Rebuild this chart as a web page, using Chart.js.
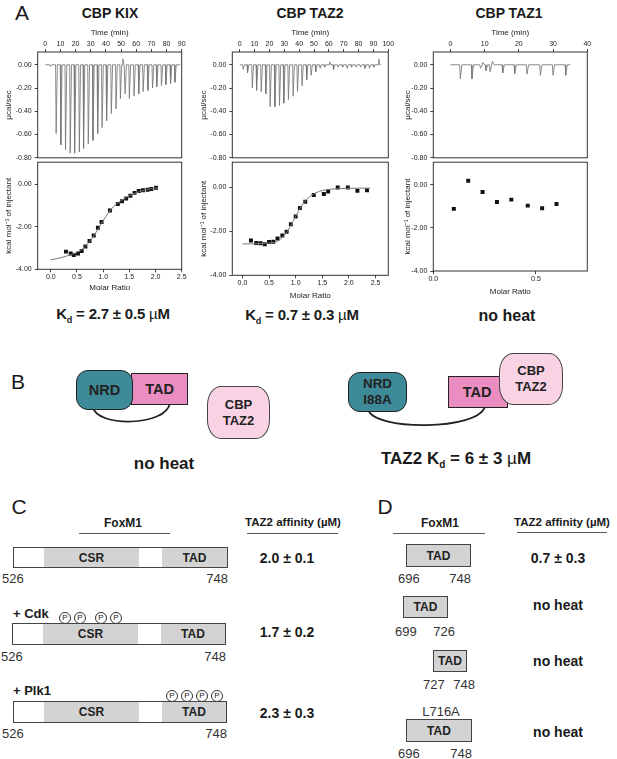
<!DOCTYPE html>
<html>
<head>
<meta charset="utf-8">
<script src="https://cdn.jsdelivr.net/npm/chart.js@4.4.0/dist/chart.umd.min.js"></script>
<style>
  html, body { margin: 0; padding: 0; background: #fff; }
  #fig { position: relative; width: 617px; height: 759px; overflow: hidden;
         font-family: 'Liberation Sans', Arial, sans-serif; color: #1a1a1a; }
  #fig canvas { position: absolute; }
  .t { position: absolute; transform: translate(-50%, -50%); white-space: nowrap; line-height: 1; }
  .l { position: absolute; transform: translateY(-50%); white-space: nowrap; line-height: 1; }
  .r { position: absolute; transform: translate(-100%, -50%); white-space: nowrap; line-height: 1; }
  .b { font-weight: bold; }
  .kd { font-weight: bold; font-size: 15px; letter-spacing: -0.2px; }
  .sub { font-size: 9px; position: relative; top: 4px; }
  .mu { font-weight: normal; }
  .box { position: absolute; box-sizing: border-box; display: flex; align-items: center; justify-content: center;
         font-weight: bold; font-size: 14.5px; text-align: center; line-height: 1.15; color: #222; }
  .rule { position: absolute; height: 0; border-top: 1.3px solid #555; }
  .p { position: absolute; width: 12px; height: 12px; box-sizing: border-box; border: 1px solid #333; border-radius: 50%;
       font-size: 8px; line-height: 10px; text-align: center; transform: translate(-50%, -50%); background: #fff; }
  .bar { position: absolute; box-sizing: border-box; border: 1px solid #444; background: #fff; }
  .seg { position: absolute; top: 0; bottom: 0; background: #d3d3d3; display: flex; align-items: center;
         justify-content: center; font-weight: bold; font-size: 12px; color: #222; }
  .gbox { position: absolute; box-sizing: border-box; border: 1px solid #444; background: #d3d3d3; display: flex;
          align-items: center; justify-content: center; font-weight: bold; font-size: 12px; color: #222; }
  .num { font-size: 13px; color: #333; }
</style>
</head>
<body>
<div id="fig">
  <!-- panel A labels -->
  <div class="t" style="left:22px;top:12px;font-size:21px">A</div>
  <div class="t b" style="left:110px;top:13px;font-size:14px">CBP KIX</div>
  <div class="t b" style="left:310px;top:13px;font-size:14px">CBP TAZ2</div>
  <div class="t b" style="left:509px;top:13px;font-size:14px">CBP TAZ1</div>
  <div class="t kd" style="left:113px;top:313px">K<span class="sub">d</span> = 2.7 ± 0.5 <span class="mu">µ</span>M</div>
  <div class="t kd" style="left:302px;top:314px">K<span class="sub">d</span> = 0.7 ± 0.3 <span class="mu">µ</span>M</div>
  <div class="t kd" style="left:507px;top:316px;font-size:16px;letter-spacing:0">no heat</div>

  <!-- panel B -->
  <div class="t" style="left:18px;top:381px;font-size:21px">B</div>
  <svg style="position:absolute;left:0;top:0" width="617" height="759">
    <path d="M93 407 C96 427, 166 427, 170 403" fill="none" stroke="#222" stroke-width="1.7"/>
    <path d="M368 409 C372 431, 480 431, 485 406" fill="none" stroke="#222" stroke-width="1.7"/>
  </svg>
  <div class="box" style="left:131px;top:373px;width:57px;height:32px;background:#ea8dc0;border:1.3px solid #222;z-index:1">TAD</div>
  <div class="box" style="left:76px;top:370px;width:57px;height:40px;background:#3f8a99;border:1.3px solid #222;border-radius:12px;z-index:2">NRD</div>
  <div class="box" style="left:207px;top:386px;width:63px;height:53px;background:#f9d2e4;border:1.3px solid #444;border-radius:14px/19px;font-size:13px;line-height:1.2">CBP<br>TAZ2</div>
  <div class="t b" style="left:164px;top:463px;font-size:17px">no heat</div>

  <div class="box" style="left:348px;top:372px;width:59px;height:40px;background:#3f8a99;border:1.3px solid #222;border-radius:12px;font-size:13.4px;line-height:1.17">NRD<br>I88A</div>
  <div class="box" style="left:448px;top:376px;width:60px;height:32px;background:#ea8dc0;border:1.3px solid #222;z-index:1;padding-right:2px">TAD</div>
  <div class="box" style="left:499px;top:353px;width:64px;height:52px;background:#f9d2e4;border:1.3px solid #444;border-radius:14px/19px;z-index:2;font-size:13px;line-height:1.2">CBP<br>TAZ2</div>
  <div class="t b" style="left:456px;top:458px;font-size:17px">TAZ2 K<span class="sub" style="font-size:10px">d</span> = 6 ± 3 <span class="mu">µ</span>M</div>

  <!-- panel C -->
  <div class="t" style="left:19px;top:506px;font-size:21px">C</div>
  <div class="t b" style="left:123px;top:523px;font-size:12px">FoxM1</div>
  <div class="rule" style="left:79px;top:533px;width:91px"></div>
  <div class="t b" style="left:293px;top:523px;font-size:11.5px">TAZ2 affinity (µM)</div>
  <div class="rule" style="left:247px;top:533px;width:91px"></div>

  <div class="bar" style="left:13px;top:547px;width:215px;height:21px">
    <div class="seg" style="left:30px;width:95px">CSR</div>
    <div class="seg" style="left:148px;right:0">TAD</div>
  </div>
  <div class="l num" style="left:2px;top:578px">526</div>
  <div class="r num" style="left:228px;top:578px">748</div>
  <div class="t b" style="left:287px;top:558px;font-size:14px">2.0 ± 0.1</div>

  <div class="l b" style="left:13px;top:613px;font-size:13px">+ Cdk</div>
  <div class="p" style="left:65px;top:618px">P</div>
  <div class="p" style="left:80px;top:618px">P</div>
  <div class="p" style="left:101px;top:618px">P</div>
  <div class="p" style="left:116px;top:618px">P</div>
  <div class="bar" style="left:12px;top:623px;width:214px;height:22px">
    <div class="seg" style="left:30px;width:95px">CSR</div>
    <div class="seg" style="left:148px;right:0">TAD</div>
  </div>
  <div class="l num" style="left:1px;top:656px">526</div>
  <div class="r num" style="left:226px;top:656px">748</div>
  <div class="t b" style="left:287px;top:632px;font-size:14px">1.7 ± 0.2</div>

  <div class="l b" style="left:13px;top:690px;font-size:13px">+ Plk1</div>
  <div class="p" style="left:172px;top:696px">P</div>
  <div class="p" style="left:187px;top:696px">P</div>
  <div class="p" style="left:202px;top:696px">P</div>
  <div class="p" style="left:217px;top:696px">P</div>
  <div class="bar" style="left:13px;top:701px;width:214px;height:22px">
    <div class="seg" style="left:30px;width:95px">CSR</div>
    <div class="seg" style="left:148px;right:0">TAD</div>
  </div>
  <div class="l num" style="left:2px;top:733px">526</div>
  <div class="r num" style="left:227px;top:733px">748</div>
  <div class="t b" style="left:287px;top:713px;font-size:14px">2.3 ± 0.3</div>

  <!-- panel D -->
  <div class="t" style="left:385px;top:506px;font-size:21px">D</div>
  <div class="t b" style="left:440px;top:523px;font-size:12px">FoxM1</div>
  <div class="rule" style="left:393px;top:533px;width:92px"></div>
  <div class="t b" style="left:562px;top:523px;font-size:11.5px">TAZ2 affinity (µM)</div>
  <div class="rule" style="left:517px;top:532px;width:90px"></div>

  <div class="gbox" style="left:406px;top:544px;width:65px;height:23px">TAD</div>
  <div class="l num" style="left:398px;top:578px">696</div>
  <div class="r num" style="left:471px;top:578px">748</div>
  <div class="t b" style="left:558px;top:558px;font-size:14px">0.7 ± 0.3</div>

  <div class="gbox" style="left:403px;top:596px;width:45px;height:22px">TAD</div>
  <div class="l num" style="left:395px;top:631px">699</div>
  <div class="r num" style="left:455px;top:631px">726</div>
  <div class="t b" style="left:558px;top:605px;font-size:14px">no heat</div>

  <div class="gbox" style="left:433px;top:650px;width:34px;height:22px">TAD</div>
  <div class="l num" style="left:423px;top:684px">727</div>
  <div class="r num" style="left:475px;top:684px">748</div>
  <div class="t b" style="left:558px;top:661px;font-size:14px">no heat</div>

  <div class="t num" style="left:441px;top:711px">L716A</div>
  <div class="gbox" style="left:406px;top:719px;width:66px;height:23px">TAD</div>
  <div class="l num" style="left:398px;top:753px">696</div>
  <div class="r num" style="left:472px;top:753px">748</div>
  <div class="t b" style="left:558px;top:732px;font-size:14px">no heat</div>
</div>

<script>
// raw ITC traces: injection time (min) and peak height (µcal/sec)
const kixTime = [2.9, 6.8, 9.9, 13.0, 16.1, 19.0, 22.1, 24.9, 28.0, 31.1, 34.2, 37.1, 40.1, 43.2, 46.3,
                 49.2, 50.8, 52.3, 55.1, 58.2, 61.3, 64.2, 67.3, 70.4, 73.2, 76.3, 79.2, 82.3, 85.2];
const kixPeak = [-0.014, -0.59, -0.69, -0.73, -0.76, -0.76, -0.75, -0.72, -0.68, -0.65, -0.59, -0.54, -0.48, -0.42, -0.38,
                 -0.29, 0.05, -0.25, -0.29, -0.27, -0.25, -0.23, -0.22, -0.20, -0.19, -0.18, -0.17, -0.16, -0.15];

const taz2Time = [2.0, 4.9, 8.1, 11.0, 14.1, 17.2, 20.1, 23.3, 26.4, 29.3, 32.4, 35.6, 38.5, 41.6, 44.7, 47.7, 50.8,
                  53.7, 56.8, 60.2, 62.8, 65.9, 68.9, 71.9, 74.9, 77.9, 80.9, 83.9, 86.9, 89.9, 93.2];
const taz2Peak = [-0.04, -0.07, -0.20, -0.22, -0.23, -0.25, -0.36, -0.36, -0.35, -0.33, -0.30, -0.27, -0.23, -0.18, -0.13, -0.09, -0.06,
                  -0.03, -0.02, 0.025, -0.04, -0.02, -0.02, -0.03, -0.02, -0.02, -0.02, -0.03, -0.03, -0.02, 0.05];

const taz1Time = [2.7, 6.1, 8.6, 9.3, 10.2, 11.4, 12.1, 15.1, 18.6, 22.2, 26.1, 29.8, 33.5];
const taz1Peak = [-0.12, -0.12, -0.03, 0.02, -0.05, -0.06, 0.03, -0.07, -0.075, -0.08, -0.09, -0.09, -0.09];

// integrated heats (kcal/mol of injectant) vs molar ratio
const kixRatio = [0.29, 0.38, 0.44, 0.52, 0.59, 0.66, 0.74, 0.82, 0.90, 0.97, 1.13, 1.28, 1.36, 1.44, 1.52, 1.60, 1.68, 1.76, 1.85, 1.92, 2.01];
const kixHeat = [-3.17, -3.26, -3.33, -3.26, -3.14, -2.93, -2.67, -2.41, -2.05, -1.78, -1.24, -0.93, -0.80, -0.67, -0.55, -0.41, -0.32, -0.29, -0.26, -0.23, -0.17];
const kixFitX = [0.0, 0.2, 0.4, 0.5, 0.6, 0.7, 0.8, 0.9, 1.0, 1.1, 1.2, 1.3, 1.4, 1.5, 1.6, 1.7, 1.8, 1.9, 2.05];
const kixFitY = [-3.55, -3.45, -3.30, -3.20, -3.05, -2.82, -2.50, -2.12, -1.72, -1.35, -1.05, -0.85, -0.68, -0.55, -0.44, -0.35, -0.28, -0.22, -0.17];

const taz2Ratio = [0.16, 0.26, 0.34, 0.42, 0.50, 0.58, 0.66, 0.75, 0.83, 0.91, 1.00, 1.08, 1.18, 1.34, 1.53, 1.61, 1.79, 1.98, 2.16, 2.34];
const taz2Heat = [-2.42, -2.53, -2.54, -2.59, -2.48, -2.47, -2.32, -2.19, -2.02, -1.68, -1.32, -0.94, -0.65, -0.34, -0.30, -0.18, 0.0, 0.0, -0.15, -0.13];
const taz2FitX = [0.0, 0.3, 0.6, 0.7, 0.8, 0.9, 1.0, 1.1, 1.2, 1.3, 1.4, 1.5, 1.7, 2.0, 2.4];
const taz2FitY = [-2.57, -2.56, -2.50, -2.38, -2.14, -1.78, -1.32, -0.88, -0.56, -0.35, -0.22, -0.14, -0.07, -0.04, -0.03];

const taz1Ratio = [0.10, 0.17, 0.24, 0.31, 0.38, 0.46, 0.53, 0.60];
const taz1Heat = [-1.11, 0.20, -0.33, -0.79, -0.68, -0.96, -1.08, -0.88];

// tick labels
const rawYTicks = [0, -0.2, -0.4, -0.6, -0.8];
const isoYTicks = [0, -2, -4];
const kixTimeTicks = [0, 10, 20, 30, 40, 50, 60, 70, 80, 90];
const taz2TimeTicks = [0, 10, 20, 30, 40, 50, 60, 70, 80, 90, 100];
const taz1TimeTicks = [0, 10, 20, 30, 40];
const ratioTicks = [0, 0.5, 1.0, 1.5, 2.0, 2.5];
const taz1RatioTicks = [0, 0.5];

Chart.defaults.font.family = "'Liberation Sans', Arial, sans-serif";
Chart.defaults.color = '#222';

const fig = document.getElementById('fig');

const frame = {
  id: 'frame',
  afterDatasetsDraw(chart) {
    const { ctx, chartArea: a } = chart;
    ctx.save();
    ctx.strokeStyle = '#333';
    ctx.lineWidth = 1;
    ctx.strokeRect(a.left, a.top, a.right - a.left, a.bottom - a.top);
    ctx.restore();
  }
};

function addCanvas(left, top, w, h) {
  const c = document.createElement('canvas');
  c.width = w; c.height = h;
  c.style.left = left + 'px'; c.style.top = top + 'px';
  c.style.width = w + 'px'; c.style.height = h + 'px';
  fig.appendChild(c);
  return c;
}

function axis(pos, min, max, ticks, fmt, title, size, pad) {
  return {
    type: 'linear', position: pos, min: min, max: max,
    afterBuildTicks: s => { s.ticks = ticks.map(v => ({ value: v })); },
    afterFit: s => { if (pos === 'left') s.width = size; else s.height = size; },
    ticks: { font: { size: 7 }, padding: pad, maxRotation: 0, autoSkip: false, callback: fmt },
    grid: { drawOnChartArea: false, drawTicks: true, tickLength: 3, color: '#444' },
    border: { display: false },
    title: { display: true, text: title, font: { size: 8 }, padding: 0 }
  };
}

// build a trace line from injection times and peak heights
function trace(times, peaks, width, tEnd) {
  const pts = [{ x: 0, y: 0 }];
  times.forEach((t, i) => {
    pts.push({ x: t, y: 0 }, { x: t + width * 0.3, y: peaks[i] }, { x: t + width, y: 0 });
  });
  pts.push({ x: tEnd, y: 0 });
  return pts;
}

function pairs(xs, ys) { return xs.map((x, i) => ({ x: x, y: ys[i] })); }

const baseOpts = {
  responsive: false, animation: false, events: [],
  plugins: { legend: { display: false }, tooltip: { enabled: false } }
};

function rawChart(c, pad, yWidth, xMin, xMax, xTicks, data) {
  new Chart(c, {
    type: 'scatter',
    data: { datasets: [{ data: data, showLine: true, pointRadius: 0, borderColor: '#777', borderWidth: 0.85 }] },
    options: Object.assign({}, baseOpts, {
      layout: { padding: pad },
      scales: {
        x: axis('top', xMin, xMax, xTicks, v => String(v), 'Time (min)', 24, 1),
        y: axis('left', -0.8, 0.11, rawYTicks, v => v.toFixed(2), 'µcal/sec', yWidth, 3)
      }
    }),
    plugins: [frame]
  });
}

function isoChart(c, pad, yWidth, xHeight, xMin, xMax, xTicks, yMax, pts, fit) {
  const ds = [];
  if (fit) ds.push({ data: fit, showLine: true, pointRadius: 0, borderColor: '#777', borderWidth: 1, tension: 0.3 });
  ds.push({ data: pts, pointStyle: 'rect', pointRadius: 2.8, backgroundColor: '#111', borderWidth: 0 });
  new Chart(c, {
    type: 'scatter',
    data: { datasets: ds },
    options: Object.assign({}, baseOpts, {
      layout: { padding: pad },
      scales: {
        x: axis('bottom', xMin, xMax, xTicks, v => v.toFixed(1), 'Molar Ratio', xHeight, 1),
        y: axis('left', -4, yMax, isoYTicks, v => v.toFixed(2), 'kcal mol⁻¹ of injectant', yWidth, 3)
      }
    }),
    plugins: [frame]
  });
}

// CBP KIX
rawChart(addCanvas(0, 28, 190, 137), { left: 3.5, right: 8.3, top: 0, bottom: 5 }, 34.2,
  -5, 90, kixTimeTicks, trace(kixTime, kixPeak, 1.2, 89));
isoChart(addCanvas(0, 155, 190, 138), { left: 3.5, right: 8.3, top: 5, bottom: 0 }, 34.2, 23.7,
  -0.25, 2.5, ratioTicks, 1.03, pairs(kixRatio, kixHeat), pairs(kixFitX, kixFitY));

// CBP TAZ2
rawChart(addCanvas(199, 28, 198, 137), { left: 0.2, right: 8.7, top: 0, bottom: 5 }, 33.1,
  -5, 100, taz2TimeTicks, trace(taz2Time, taz2Peak, 1.2, 95));
isoChart(addCanvas(199, 155, 198, 146), { left: 0.2, right: 8.7, top: 5, bottom: 0 }, 33.1, 25.7,
  -0.19, 2.74, ratioTicks, 1.15, pairs(taz2Ratio, taz2Heat), pairs(taz2FitX, taz2FitY));

// CBP TAZ1
rawChart(addCanvas(403, 28, 193, 137), { left: 0.2, right: 8.7, top: 0, bottom: 5 }, 30.1,
  -5, 40, taz1TimeTicks, trace(taz1Time, taz1Peak, 0.65, 35));
isoChart(addCanvas(403, 155, 193, 142), { left: 0.2, right: 8.7, top: 5, bottom: 0 }, 30.1, 26,
  0, 0.75, taz1RatioTicks, 1.06, pairs(taz1Ratio, taz1Heat), null);
</script>
</body>
</html>
